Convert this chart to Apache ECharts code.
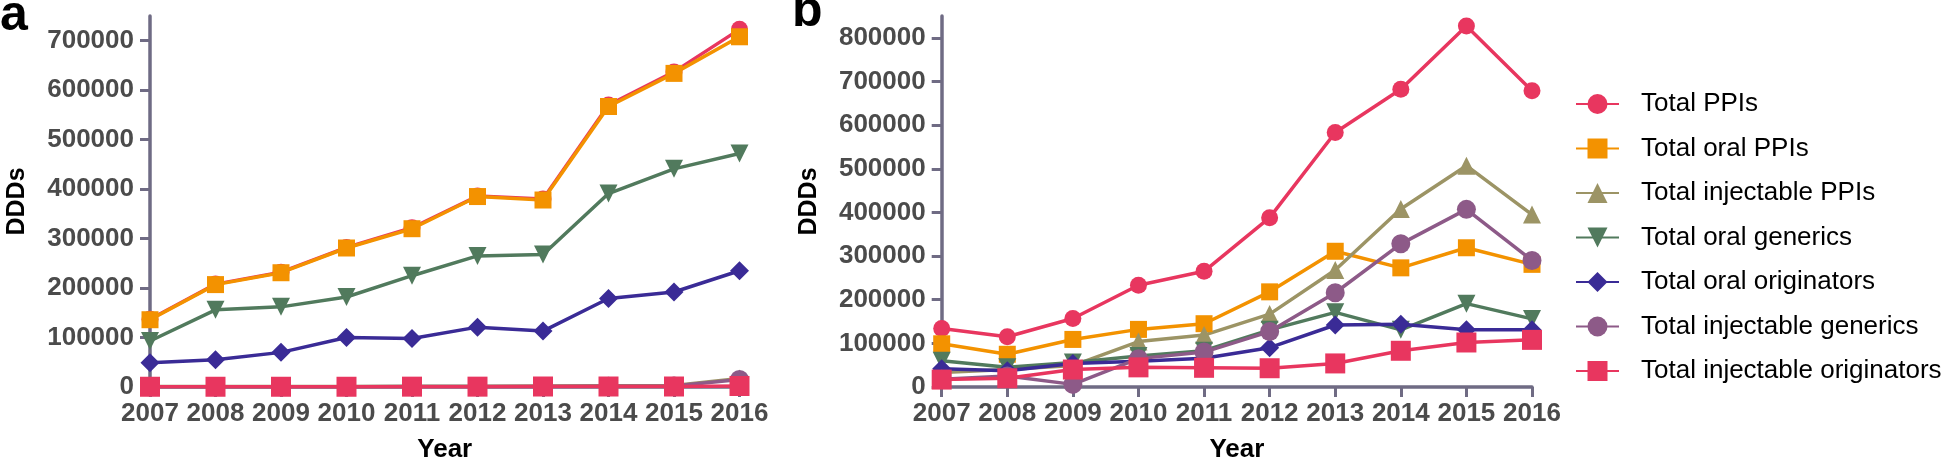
<!DOCTYPE html>
<html><head><meta charset="utf-8">
<script src="https://cdn.jsdelivr.net/npm/echarts@6/dist/echarts.min.js"></script>
<style>html,body{margin:0;padding:0;background:#fff}#c{width:1944px;height:468px}</style>
</head><body><div id="c"></div>
<script>
// Categories
const years = ['2007','2008','2009','2010','2011','2012','2013','2014','2015','2016'];
const seriesNames = ['Total PPIs','Total oral PPIs','Total injectable PPIs','Total oral generics','Total oral originators','Total injectable generics','Total injectable originators'];

// Panel a values (DDDs)
const aTotalPPIs        = [137000, 208000, 232000, 282000, 322000, 386000, 380000, 570000, 637000, 723000];
const aOralPPIs         = [136000, 207000, 231000, 281000, 320000, 385000, 378000, 567000, 634000, 708000];
const aInjPPIs          = [1000, 1000, 1000, 1000, 1500, 1500, 2000, 2500, 3000, 17000];
const aOralGenerics     = [93000, 156000, 162000, 182000, 225000, 265000, 268000, 391000, 441000, 472000];
const aOralOriginators  = [49000, 55000, 70000, 100000, 98000, 121000, 113000, 179000, 192000, 235000];
const aInjGenerics      = [500, 500, 500, 500, 800, 800, 1000, 1500, 2000, 15000];
const aInjOriginators   = [500, 500, 500, 500, 700, 700, 1000, 1000, 1000, 2000];

// Panel b values (DDDs)
const bTotalPPIs        = [134000, 115000, 157000, 233000, 265000, 388000, 583000, 682000, 827000, 679000];
const bOralPPIs         = [99000, 75000, 109000, 132000, 145000, 218000, 311000, 273000, 319000, 281000];
const bInjPPIs          = [33000, 40000, 49000, 104000, 119000, 167000, 268000, 408000, 507000, 395000];
const bOralGenerics     = [60000, 45000, 56000, 71000, 83000, 131000, 171000, 131000, 191000, 156000];
const bOralOriginators  = [42000, 37000, 54000, 59000, 66000, 90000, 142000, 144000, 131000, 131000];
const bInjGenerics      = [18000, 25000, 6000, 65000, 80000, 127000, 216000, 328000, 407000, 290000];
const bInjOriginators   = [17000, 20000, 40000, 45000, 44000, 43000, 54000, 83000, 102000, 108000];

// Tick labels
const aYTicks = [0, 100000, 200000, 300000, 400000, 500000, 600000, 700000];
const bYTicks = [0, 100000, 200000, 300000, 400000, 500000, 600000, 700000, 800000];

const colors = ['#e8365f', '#f39200', '#9c9465', '#517a5d', '#3a2b96', '#8d5a88', '#e8365f'];
const symbols = ['circle', 'rect', 'triangle', 'triangle', 'diamond', 'circle', 'rect'];
const rotates = [0, 0, 0, 180, 0, 0, 0];
const sizes = [17, 17, 18, 18, 19, 19, 20];

const aData = [aTotalPPIs, aOralPPIs, aInjPPIs, aOralGenerics, aOralOriginators, aInjGenerics, aInjOriginators];
const bData = [bTotalPPIs, bOralPPIs, bInjPPIs, bOralGenerics, bOralOriginators, bInjGenerics, bInjOriginators];

const FONT = '"Liberation Sans", Arial, sans-serif';
const AXIS = '#6f6b84';
const LABEL = '#4b4b4b';

function mkSeries(dataArr, gi) {
  return dataArr.map((d, i) => ({
    type: 'line', name: seriesNames[i], data: d,
    xAxisIndex: gi, yAxisIndex: gi,
    symbol: symbols[i], symbolSize: sizes[i], symbolRotate: rotates[i],
    showAllSymbol: true,
    lineStyle: { color: colors[i], width: 3.5 },
    itemStyle: { color: colors[i], opacity: 1 },
    emphasis: { disabled: true }
  }));
}

function mkX(gi) {
  return {
    type: 'category', gridIndex: gi, data: years, boundaryGap: false,
    axisLine: { lineStyle: { color: AXIS, width: 3.5 } },
    axisTick: { show: true, length: 10, lineStyle: { color: AXIS, width: 3 } },
    axisLabel: { interval: 0, margin: 14, color: LABEL, fontSize: 26, fontWeight: 'bold', fontFamily: FONT },
    name: 'Year', nameLocation: 'middle', nameGap: 50,
    nameTextStyle: { color: '#000', fontSize: 26, fontWeight: 'bold', fontFamily: FONT },
    splitLine: { show: false }
  };
}
function mkY(gi, max, ticks) {
  return {
    type: 'value', gridIndex: gi, min: 0, max: max, interval: 100000,
    axisLine: { show: true, lineStyle: { color: AXIS, width: 3.5 } },
    axisTick: { show: true, length: 10, customValues: ticks, lineStyle: { color: AXIS, width: 3 } },
    axisLabel: { margin: 16, customValues: ticks, formatter: v => String(v), color: LABEL, fontSize: 26, fontWeight: 'bold', fontFamily: FONT },
    splitLine: { show: false },
    name: 'DDDs', nameLocation: 'middle', nameGap: 120,
    nameTextStyle: { color: '#000', fontSize: 25, fontWeight: 'bold', fontFamily: FONT }
  };
}

const chart = echarts.init(document.getElementById('c'), null, { renderer: 'canvas' });
chart.setOption({
  animation: false,
  backgroundColor: '#fff',
  grid: [
    { left: 150, top: 16, width: 589.5, height: 377 },
    { left: 941.7, top: 16, width: 590.3, height: 377 }
  ],
  xAxis: [mkX(0), mkX(1)],
  yAxis: [mkY(0, 750000, aYTicks), mkY(1, 850000, bYTicks)],
  legend: {
    orient: 'vertical', left: 1570, top: 86,
    data: seriesNames, itemWidth: 43, itemHeight: 25, itemGap: 18.5,
    selectedMode: false,
    textStyle: { fontSize: 26, color: '#000', fontFamily: FONT, padding: [0, 0, 0, 17], lineHeight: 25 }
  },
  graphic: [
    { type: 'text', left: 0, top: -9, style: { text: 'a', font: 'bold 50px ' + FONT, fill: '#000' } },
    { type: 'text', left: 792, top: -13, style: { text: 'b', font: 'bold 50px ' + FONT, fill: '#000' } }
  ],
  series: mkSeries(aData, 0).concat(mkSeries(bData, 1))
});
</script>
</body></html>
